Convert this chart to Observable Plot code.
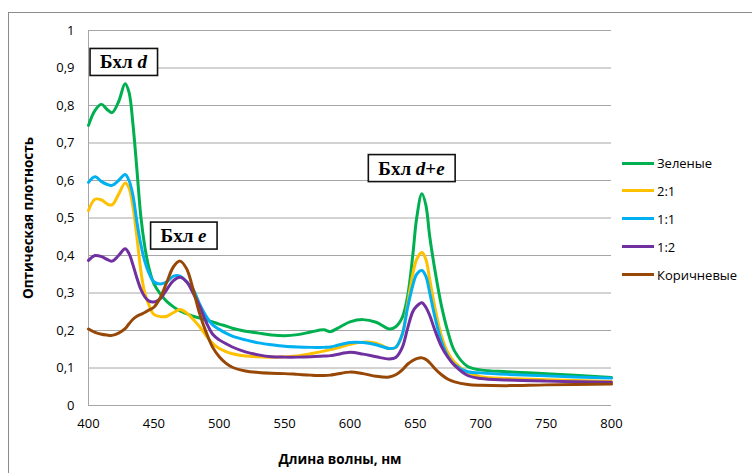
<!DOCTYPE html>
<html><head><meta charset="utf-8">
<script src="https://cdn.jsdelivr.net/npm/d3@7"></script>
<script src="https://cdn.jsdelivr.net/npm/@observablehq/plot@0.6"></script>
<style>
html,body{margin:0;padding:0;background:#fff;overflow:hidden;}
#wrap{position:relative;width:752px;height:473px;overflow:hidden;font-family:"Open Sans",sans-serif;}
#frame{position:absolute;left:8px;top:12px;width:800px;height:500px;border:1px solid #8c8c8c;box-sizing:border-box;}
#chart{position:absolute;left:0;top:0;}
.leg{position:absolute;left:622px;height:20px;display:flex;align-items:center;font-size:13px;color:#000;white-space:nowrap;}
.leg .sw{width:32px;height:3px;margin-right:3px;}
</style></head><body>
<div id="wrap"><div id="frame"></div><div id="chart"></div><div id="legend"></div></div>
<script>
const seriesNames = ["Зеленые", "2:1", "1:1", "1:2", "Коричневые"];
const seriesColors = ["#00b050", "#ffc000", "#00b0f0", "#7030a0", "#974706"];
const xTicks = [400, 450, 500, 550, 600, 650, 700, 750, 800];
const yTicks = [0, 0.1, 0.2, 0.3, 0.4, 0.5, 0.6, 0.7, 0.8, 0.9, 1];
const xTitle = "Длина волны, нм";
const yTitle = "Оптическая плотность";

const wavelengths = [400,405,410,414,418,423,428,431,434,437,440,443,446,450,455,460,465,470,475,480,485,490,495,500,505,510,520,530,540,550,560,570,580,585,590,600,610,620,630,635,640,644,648,651,655,658,661,665,670,675,680,690,700,720,750,800];

const green = [0.747,0.787,0.803,0.79,0.781,0.81,0.858,0.835,0.75,0.63,0.505,0.425,0.37,0.325,0.297,0.277,0.263,0.252,0.245,0.238,0.233,0.228,0.223,0.217,0.212,0.206,0.198,0.193,0.188,0.186,0.189,0.196,0.202,0.197,0.205,0.223,0.229,0.222,0.204,0.21,0.235,0.29,0.40,0.50,0.565,0.535,0.45,0.36,0.265,0.195,0.145,0.104,0.095,0.09,0.085,0.075];
const ratio21 = [0.52,0.55,0.548,0.538,0.535,0.563,0.593,0.58,0.53,0.45,0.36,0.30,0.27,0.243,0.237,0.238,0.248,0.256,0.247,0.23,0.21,0.186,0.165,0.152,0.144,0.138,0.132,0.13,0.129,0.13,0.132,0.138,0.145,0.149,0.153,0.163,0.169,0.166,0.152,0.155,0.19,0.27,0.35,0.39,0.408,0.39,0.335,0.26,0.185,0.14,0.115,0.088,0.077,0.072,0.069,0.064];
const ratio11 = [0.595,0.61,0.597,0.59,0.587,0.60,0.616,0.60,0.56,0.49,0.43,0.385,0.355,0.33,0.324,0.33,0.345,0.345,0.33,0.31,0.27,0.238,0.215,0.203,0.193,0.185,0.175,0.167,0.162,0.158,0.156,0.155,0.155,0.156,0.16,0.168,0.168,0.162,0.152,0.155,0.19,0.26,0.32,0.35,0.36,0.345,0.30,0.235,0.17,0.13,0.108,0.09,0.087,0.083,0.079,0.073];
const ratio12 = [0.387,0.40,0.397,0.39,0.385,0.40,0.418,0.405,0.375,0.34,0.31,0.29,0.279,0.276,0.285,0.31,0.333,0.342,0.33,0.30,0.265,0.222,0.19,0.175,0.165,0.156,0.143,0.135,0.13,0.129,0.129,0.13,0.132,0.133,0.136,0.142,0.137,0.13,0.124,0.128,0.155,0.205,0.25,0.265,0.274,0.262,0.24,0.2,0.157,0.128,0.107,0.08,0.072,0.068,0.065,0.062];
const brown = [0.204,0.195,0.19,0.188,0.187,0.193,0.205,0.218,0.23,0.238,0.243,0.248,0.254,0.262,0.288,0.33,0.37,0.385,0.365,0.31,0.245,0.195,0.155,0.13,0.113,0.102,0.092,0.088,0.086,0.085,0.083,0.081,0.08,0.081,0.084,0.089,0.085,0.078,0.076,0.082,0.095,0.11,0.12,0.125,0.127,0.123,0.114,0.098,0.082,0.07,0.063,0.056,0.054,0.053,0.055,0.057];
const seriesValues = [green, ratio21, ratio11, ratio12, brown];

const annoLabels = ["Бхл d", "Бхл e", "Бхл d+e"];
const annoX = [426.8, 472.7, 647];
const annoY = [0.915, 0.452, 0.632];

const rows = [];
seriesNames.forEach((name, i) => wavelengths.forEach((w, j) => rows.push({series: name, wl: w, v: seriesValues[i][j]})));
const annos = annoLabels.map((t, i) => ({t, x: annoX[i], y: annoY[i]}));

const fmtY = d => d3.format(".1~f")(d).replace(".", ",");

const chart = Plot.plot({
  width: 752, height: 473,
  marginLeft: 88, marginRight: 141, marginTop: 30, marginBottom: 68,
  style: {fontFamily: "'Open Sans', sans-serif", fontSize: "13px", background: "transparent", color: "#000", overflow: "visible"},
  x: {domain: [400, 800]},
  y: {domain: [0, 1]},
  color: {domain: seriesNames, range: seriesColors},
  marks: [
    Plot.gridY(yTicks, {stroke: "#a6a6a6", strokeOpacity: 1, strokeWidth: 1}),
    Plot.ruleX([400], {stroke: "#a6a6a6", strokeWidth: 1}),
    Plot.axisX(xTicks, {tickSize: 0, tickPadding: 13, label: null, fill: "#000"}),
    Plot.axisY(yTicks, {tickSize: 0, tickPadding: 14, tickFormat: fmtY, label: null, fill: "#000"}),
    Plot.line(rows, {x: "wl", y: "v", z: "series", stroke: "series", strokeWidth: 3, curve: "catmull-rom"}),
    Plot.text(annos, {x: "x", y: "y", text: "t", fontFamily: "'Liberation Serif', serif", fontWeight: "bold", fontSize: 19, fill: "#000"}),
    Plot.text([0], {frameAnchor: "bottom", dy: 58, dx: -10, text: () => xTitle, fontWeight: "bold", fontSize: 13.5, fill: "#000"}),
    Plot.text([0], {frameAnchor: "left", dx: -60, rotate: -90, textAnchor: "middle", text: () => yTitle, fontWeight: "bold", fontSize: 13.5, fill: "#000"})
  ]
});
document.getElementById("chart").append(chart);

// annotation boxes with italic letters
const svgNS = "http://www.w3.org/2000/svg";
chart.querySelectorAll("text").forEach(t => {
  const label = t.textContent;
  if (!annoLabels.includes(label)) return;
  t.textContent = "";
  label.split(/([de])/).forEach(part => {
    if (!part) return;
    const ts = document.createElementNS(svgNS, "tspan");
    ts.textContent = part;
    if (part === "d" || part === "e") ts.setAttribute("font-style", "italic");
    t.appendChild(ts);
  });
  const bb = t.getBBox();
  const r = document.createElementNS(svgNS, "rect");
  r.setAttribute("x", bb.x - 10);
  r.setAttribute("y", bb.y - 3);
  r.setAttribute("width", bb.width + 20);
  r.setAttribute("height", bb.height + 6);
  r.setAttribute("fill", "#fff");
  r.setAttribute("stroke", "#111");
  r.setAttribute("stroke-width", 1.6);
  if (t.getAttribute("transform")) r.setAttribute("transform", t.getAttribute("transform"));
  t.parentNode.insertBefore(r, t);
});

// legend
const leg = document.getElementById("legend");
seriesNames.forEach((name, i) => {
  const d = document.createElement("div");
  d.className = "leg";
  d.style.top = (163 + i * 27.9 - 10) + "px";
  d.innerHTML = `<span class="sw" style="background:${seriesColors[i]}"></span><span></span>`;
  d.lastChild.textContent = name;
  leg.appendChild(d);
});
</script></body></html>
